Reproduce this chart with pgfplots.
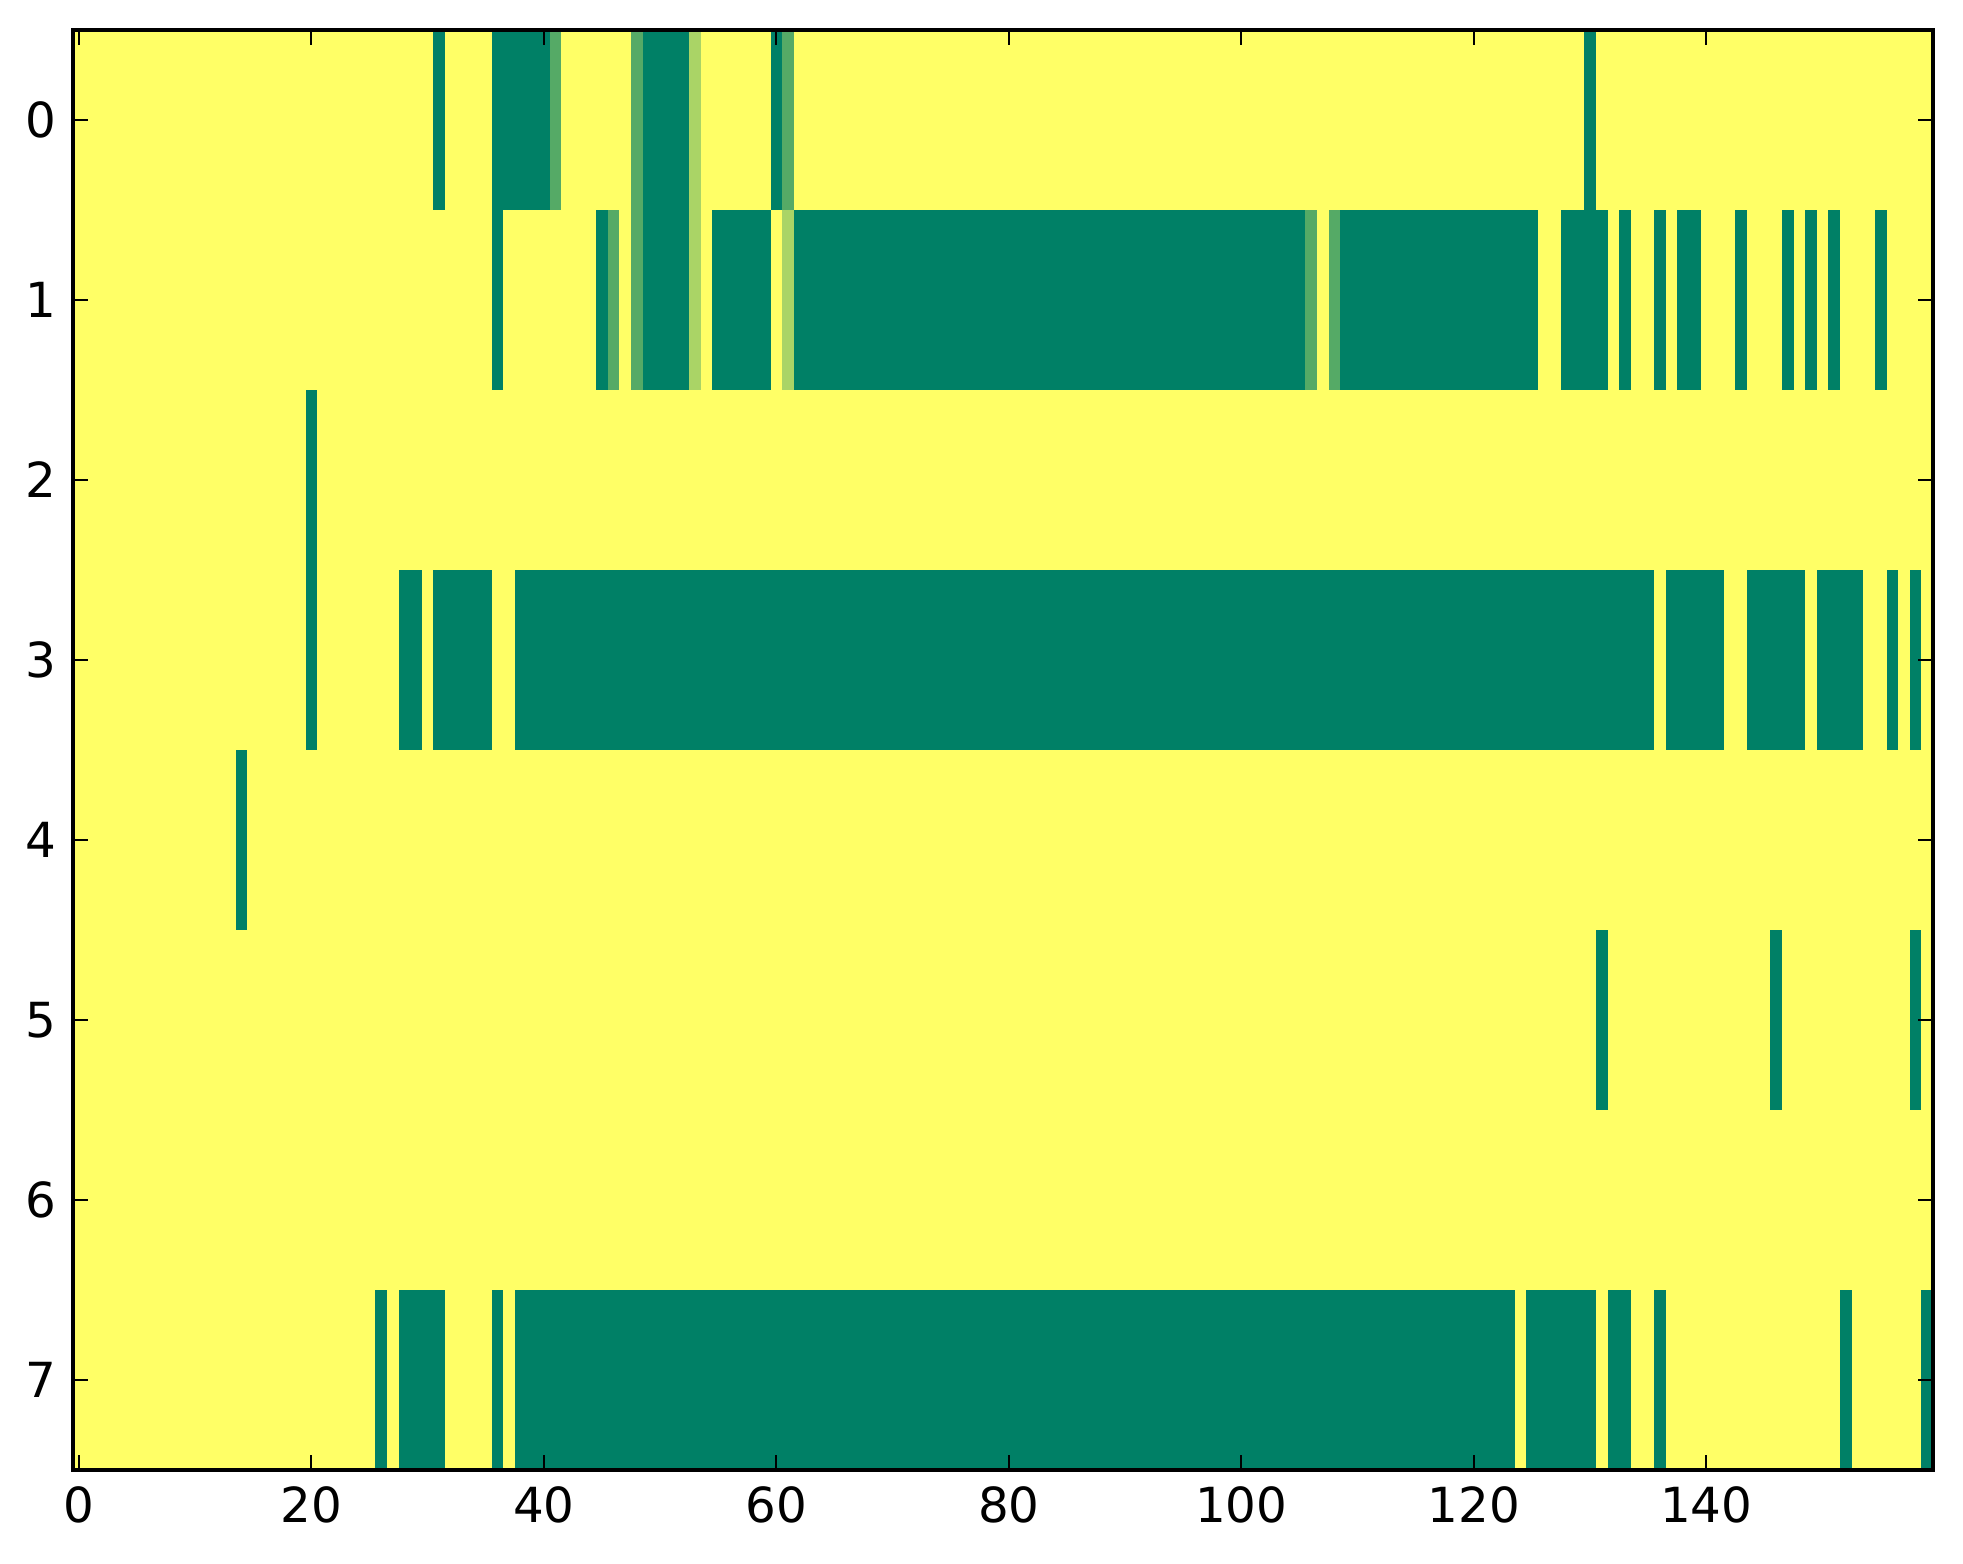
\documentclass[border=0pt]{standalone}
\usepackage{pgfplots}
\pgfplotsset{compat=1.18}
\usepackage{fontspec}
\setmainfont{DejaVu Sans}
\definecolor{cdark}{HTML}{008066}
\definecolor{cmed}{HTML}{55AA66}
\definecolor{clight}{HTML}{AAD466}
\definecolor{cyel}{HTML}{FFFF66}
% \R{ylow}{yhigh}{xlow}{xhigh}{colour}: one run of equal cells
\newcommand{\R}[5]{\addplot[draw=none,fill=#5,forget plot] coordinates {(#3,#1) (#4,#1) (#4,#2) (#3,#2)};}
\begin{document}
\begin{tikzpicture}
\begin{axis}[
  scale only axis, width=558pt, height=432pt,
  xmin=-0.5, xmax=159.5, ymin=-0.5, ymax=7.5, y dir=reverse,
  xtick={0,20,...,140}, ytick={0,1,...,7},
  tick align=inside, tick pos=both,
  major tick length=4.5pt,
  every tick/.style={black, line width=0.5pt},
  axis line style={line width=1pt},
  axis on top,
  /pgf/number format/assume math mode=true,
  tick label style={font=\fontsize{14.5}{17}\selectfont},
  xticklabel style={yshift=-1.5pt},
  yticklabel style={xshift=-1.6pt},
]
% background (value 1)
\R{-0.5}{7.5}{-0.5}{159.5}{cyel}
% row 0
\R{-0.5}{0.5}{30.5}{31.5}{cdark}
\R{-0.5}{0.5}{35.5}{40.5}{cdark}
\R{-0.5}{0.5}{40.5}{41.5}{cmed}
\R{-0.5}{0.5}{47.5}{48.5}{cmed}
\R{-0.5}{0.5}{48.5}{52.5}{cdark}
\R{-0.5}{0.5}{52.5}{53.5}{clight}
\R{-0.5}{0.5}{59.5}{60.5}{cdark}
\R{-0.5}{0.5}{60.5}{61.5}{cmed}
\R{-0.5}{0.5}{129.5}{130.5}{cdark}
% row 1
\R{0.5}{1.5}{35.5}{36.5}{cdark}
\R{0.5}{1.5}{44.5}{45.5}{cdark}
\R{0.5}{1.5}{45.5}{46.5}{cmed}
\R{0.5}{1.5}{47.5}{48.5}{cmed}
\R{0.5}{1.5}{48.5}{52.5}{cdark}
\R{0.5}{1.5}{52.5}{53.5}{clight}
\R{0.5}{1.5}{54.5}{59.5}{cdark}
\R{0.5}{1.5}{60.5}{61.5}{clight}
\R{0.5}{1.5}{61.5}{105.5}{cdark}
\R{0.5}{1.5}{105.5}{106.5}{cmed}
\R{0.5}{1.5}{107.5}{108.5}{cmed}
\R{0.5}{1.5}{108.5}{125.5}{cdark}
\R{0.5}{1.5}{127.5}{131.5}{cdark}
\R{0.5}{1.5}{132.5}{133.5}{cdark}
\R{0.5}{1.5}{135.5}{136.5}{cdark}
\R{0.5}{1.5}{137.5}{139.5}{cdark}
\R{0.5}{1.5}{142.5}{143.5}{cdark}
\R{0.5}{1.5}{146.5}{147.5}{cdark}
\R{0.5}{1.5}{148.5}{149.5}{cdark}
\R{0.5}{1.5}{150.5}{151.5}{cdark}
\R{0.5}{1.5}{154.5}{155.5}{cdark}
% row 2
\R{1.5}{2.5}{19.5}{20.5}{cdark}
% row 3
\R{2.5}{3.5}{19.5}{20.5}{cdark}
\R{2.5}{3.5}{27.5}{29.5}{cdark}
\R{2.5}{3.5}{30.5}{35.5}{cdark}
\R{2.5}{3.5}{37.5}{135.5}{cdark}
\R{2.5}{3.5}{136.5}{141.5}{cdark}
\R{2.5}{3.5}{143.5}{148.5}{cdark}
\R{2.5}{3.5}{149.5}{153.5}{cdark}
\R{2.5}{3.5}{155.5}{156.5}{cdark}
\R{2.5}{3.5}{157.5}{158.5}{cdark}
% row 4
\R{3.5}{4.5}{13.5}{14.5}{cdark}
% row 5
\R{4.5}{5.5}{130.5}{131.5}{cdark}
\R{4.5}{5.5}{145.5}{146.5}{cdark}
\R{4.5}{5.5}{157.5}{158.5}{cdark}
% row 7
\R{6.5}{7.5}{25.5}{26.5}{cdark}
\R{6.5}{7.5}{27.5}{31.5}{cdark}
\R{6.5}{7.5}{35.5}{36.5}{cdark}
\R{6.5}{7.5}{37.5}{123.5}{cdark}
\R{6.5}{7.5}{124.5}{130.5}{cdark}
\R{6.5}{7.5}{131.5}{133.5}{cdark}
\R{6.5}{7.5}{135.5}{136.5}{cdark}
\R{6.5}{7.5}{151.5}{152.5}{cdark}
\R{6.5}{7.5}{158.5}{159.5}{cdark}
\end{axis}
\path (current axis.south west) ++(-21.9pt,-28.2pt) (current axis.north east) ++(9pt,9pt);
\end{tikzpicture}
\end{document}
